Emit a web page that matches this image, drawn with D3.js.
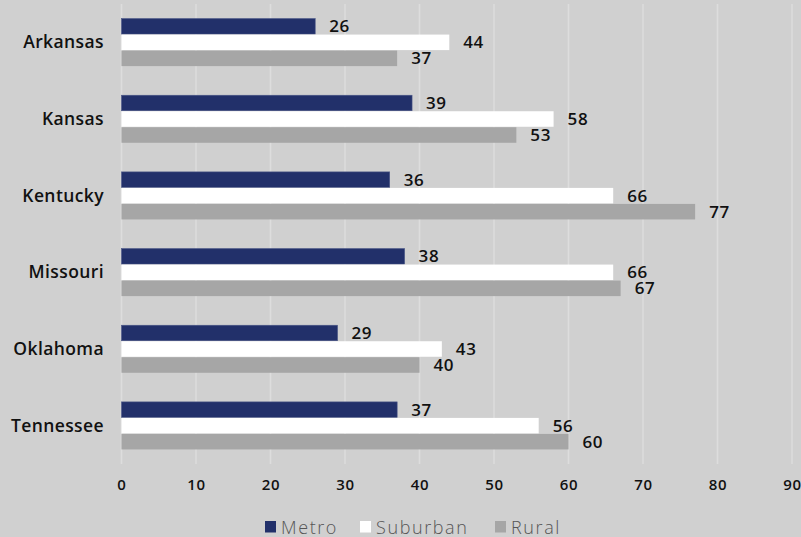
<!DOCTYPE html>
<html>
<head>
<meta charset="utf-8">
<script src="https://cdn.jsdelivr.net/npm/d3@7"></script>
<style>
  html, body { margin: 0; padding: 0; background: #d0d0d0; }
  svg { display: block; }
</style>
</head>
<body>
<svg id="chart" width="801" height="537"></svg>
<script>
// Share by state and area type
const states = ["Arkansas", "Kansas", "Kentucky", "Missouri", "Oklahoma", "Tennessee"];
const seriesNames = ["Metro", "Suburban", "Rural"];
const metro    = [26, 39, 36, 38, 29, 37];
const suburban = [44, 58, 66, 66, 43, 56];
const rural    = [37, 53, 77, 67, 40, 60];
const xTicks = [0, 10, 20, 30, 40, 50, 60, 70, 80, 90];
const colors = ["#22306a", "#ffffff", "#a6a6a6"];

const seriesValues = [metro, suburban, rural];
const rows = states.map((s, i) => ({
  state: s,
  values: seriesNames.map((name, k) => ({ name, value: seriesValues[k][i], k }))
}));

const svg = d3.select("#chart");
const W = 801, H = 537;
const plot = { left: 121.5, right: 792, top: 4, bottom: 464 };
const font = "'Open Sans', sans-serif";

svg.append("rect").attr("width", W).attr("height", H).attr("fill", "#d0d0d0");

const x = d3.scaleLinear().domain([0, 90]).range([plot.left, plot.right]);
const y = d3.scaleBand().domain(states).range([plot.top, plot.bottom])
  .paddingInner(0.38).paddingOuter(0.19);
const ySub = d3.scaleBand().domain(seriesNames).range([0, y.bandwidth()]).paddingInner(0.03);

// vertical gridlines
svg.append("g").selectAll("line").data(xTicks).join("line")
  .attr("x1", d => x(d)).attr("x2", d => x(d))
  .attr("y1", plot.top).attr("y2", plot.bottom)
  .attr("stroke", "#dddddd").attr("stroke-width", 1.5);

// x axis tick labels
const xAxis = d3.axisBottom(x).tickValues(xTicks).tickSize(0).tickPadding(0);
const gx = svg.append("g").attr("transform", `translate(0,${plot.bottom + 26})`).call(xAxis);
gx.select(".domain").remove();
gx.selectAll("text")
  .attr("dy", null).attr("y", 0)
  .style("font-family", font)
  .style("font-weight", 600).style("font-size", "15px")
  .style("letter-spacing", "0.8px").attr("fill", "#111");

// category labels
const yAxis = d3.axisLeft(y).tickSize(0).tickPadding(0);
const gy = svg.append("g").attr("transform", `translate(104,0)`).call(yAxis);
gy.select(".domain").remove();
gy.selectAll("text")
  .style("font-family", font)
  .style("font-weight", 600).style("font-size", "17.5px")
  .style("letter-spacing", "0.4px").attr("fill", "#111")
  .attr("dy", "0.35em");

// bars
const groups = svg.append("g").selectAll("g").data(rows).join("g")
  .attr("transform", d => `translate(0,${y(d.state)})`);

groups.selectAll("rect").data(d => d.values).join("rect")
  .attr("x", x(0))
  .attr("y", d => ySub(d.name))
  .attr("width", d => x(d.value) - x(0))
  .attr("height", ySub.bandwidth())
  .attr("fill", d => colors[d.k])
  .attr("stroke", d => d.k === 0 ? "#4a5687" : "none")
  .attr("stroke-width", 0.6);

groups.selectAll("text").data(d => d.values).join("text")
  .attr("x", d => x(d.value) + 14)
  .attr("y", d => ySub(d.name) + ySub.bandwidth() / 2)
  .attr("dy", "0.36em")
  .style("font-family", font)
  .style("font-weight", 600).style("font-size", "17px")
  .style("letter-spacing", "0.6px")
  .attr("fill", "#111")
  .text(d => d.value);

// legend
const legendX = [265, 360, 495];
const legend = svg.append("g").selectAll("g").data(seriesNames).join("g")
  .attr("transform", (d, i) => `translate(${legendX[i]},521)`);
legend.append("rect").attr("width", 11).attr("height", 11.5)
  .attr("fill", (d, i) => colors[i]);
legend.append("text")
  .attr("x", 16).attr("y", 12.5)
  .style("font-family", font)
  .style("font-weight", 300).style("font-size", "18px")
  .style("letter-spacing", "1.6px")
  .attr("fill", "#555")
  .text(d => d);
</script>
</body>
</html>
